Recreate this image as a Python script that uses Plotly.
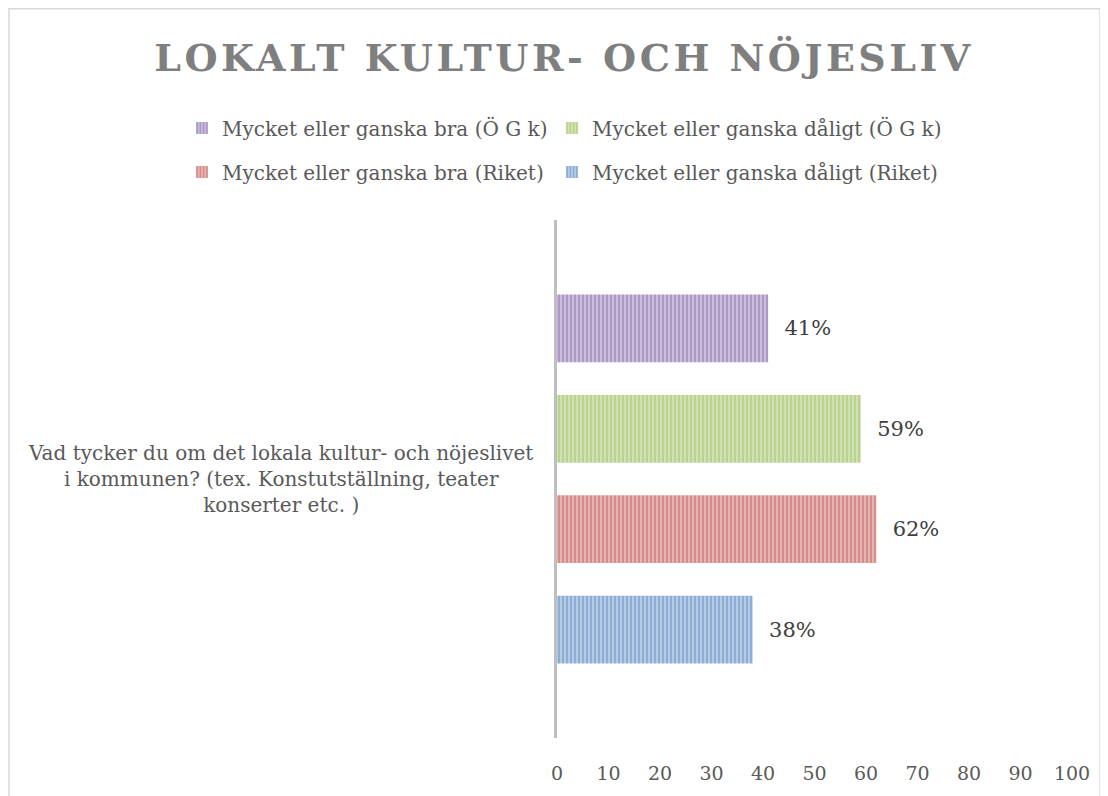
import plotly.graph_objects as go

category = ["Vad tycker du om det lokala kultur- och nöjeslivet<br>i kommunen? (tex. Konstutställning, teater<br>konserter etc. )"]
series_names = [
    "Mycket eller ganska bra (Ö G k)",
    "Mycket eller ganska dåligt (Ö G k)",
    "Mycket eller ganska bra (Riket)",
    "Mycket eller ganska dåligt (Riket)",
]
series_values = [[41], [59], [62], [38]]
fg_colors = ["#7B5EA0", "#94B850", "#BE4845", "#4A7CBA"]
bg_colors = ["#DDD4EA", "#E0ECCB", "#F0CFCE", "#D0DEF1"]
legend_ids = ["legend", "legend2", "legend3", "legend4"]
x_ticks = [0, 10, 20, 30, 40, 50, 60, 70, 80, 90, 100]

FONT = "DejaVu Serif"
W, H = 1100, 788
OFF = 8  # page body margin

fig = go.Figure()
for name, vals, fg, bg, lg in zip(series_names, series_values, fg_colors, bg_colors, legend_ids):
    fig.add_trace(go.Bar(
        y=["cat"], x=vals, name=name, orientation="h",
        marker=dict(color=bg, line=dict(width=0),
                    pattern=dict(shape="|", fgcolor=fg, bgcolor=bg, size=4, solidity=0.7)),
        text=[f"\u00a0\u00a0{v}%" for v in vals], textposition="outside",
        textfont=dict(family=FONT, size=21, color="#404040"),
        cliponaxis=False, legend=lg,
    ))

legend_pos = {  # page pixel positions of legend text start / row centre
    "legend": (222, 128),
    "legend2": (592, 128),
    "legend3": (222, 172),
    "legend4": (592, 172),
}
legends = {}
for lid, (tx, ty) in legend_pos.items():
    legends[lid] = dict(orientation="h", xref="container", yref="container",
                        x=(tx - OFF - 40) / W, xanchor="left",
                        y=1 - (ty - OFF) / H, yanchor="middle",
                        font=dict(family=FONT, size=20, color="#595959"),
                        itemclick=False, itemdoubleclick=False, bgcolor="rgba(0,0,0,0)")

pl, pr, pt, pb = 557 - OFF, 1072 - OFF, 220 - OFF, 740 - OFF
fig.update_layout(
    width=W, height=H,
    margin=dict(l=pl, r=W - pr, t=pt, b=H - pb),
    paper_bgcolor="white", plot_bgcolor="white",
    barmode="group", bargap=0.225, bargroupgap=0.325,
    font=dict(family=FONT, color="#595959"),
    title=dict(text="<b>LOKALT KULTUR- OCH NÖJESLIV</b>", x=(564 - OFF) / W, xanchor="center",
               y=1 - (58 - OFF) / H, yanchor="middle",
               font=dict(family=FONT, size=38, color="#7F7F7F")),
    xaxis=dict(range=[0, 100], tickvals=x_ticks, showgrid=False, zeroline=False,
               showline=False, ticks="", ticklabelstandoff=22,
               tickfont=dict(family=FONT, size=19, color="#595959")),
    yaxis=dict(showticklabels=False, autorange="reversed", showgrid=False, zeroline=False,
               showline=True, linecolor="#BFBFBF", linewidth=3),
    showlegend=True,
    **legends,
)

fig.add_annotation(xref="paper", yref="y", x=0, y="cat", xanchor="right", xshift=-22,
                   text=category[0], showarrow=False, align="center",
                   font=dict(family=FONT, size=20, color="#595959"))

fig.add_shape(type="rect", xref="paper", yref="paper",
              x0=(9 - 557) / 515, x1=(1100 - 557) / 515, y0=(740 - 830) / 520, y1=(740 - 8) / 520,
              line=dict(color="#D9D9D9", width=1.5), fillcolor="rgba(0,0,0,0)", layer="below")

post = """
document.querySelectorAll('.gtitle').forEach(function(e){ e.style.letterSpacing='3.5px'; });
"""
fig.write_html("out.html", post_script=post)
